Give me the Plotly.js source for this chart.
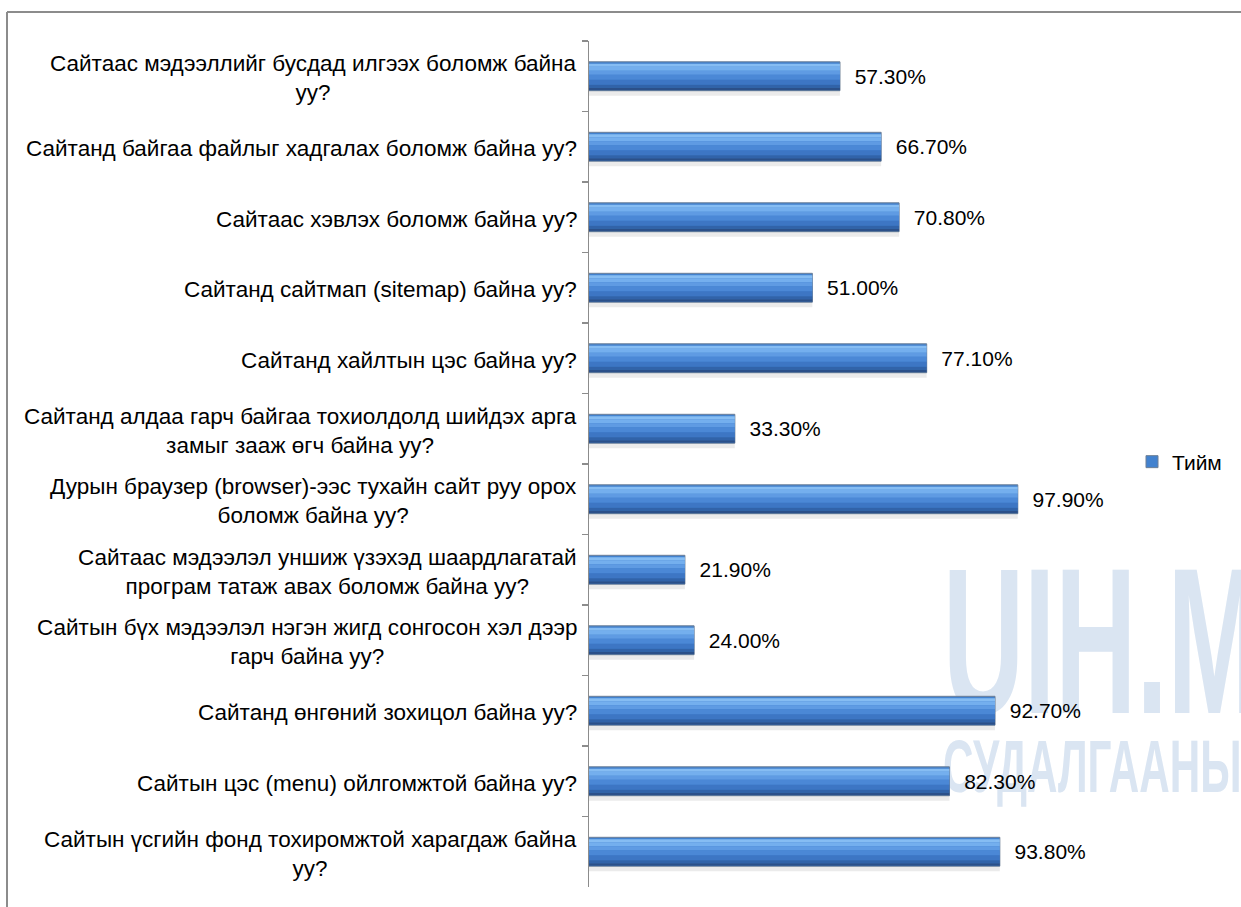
<!DOCTYPE html>
<html>
<head>
<meta charset="utf-8">
<script src="https://cdn.plot.ly/plotly-3.0.1.min.js"></script>
<style>
html,body{margin:0;padding:0;background:#fff;}
#chart{width:1241px;height:907px;}
</style>
</head>
<body>
<div id="chart"></div>
<script>
// ---- data ----
const categories = [
  "Сайтаас мэдээллийг бусдад илгээх боломж байна<br>уу?",
  "Сайтанд байгаа файлыг хадгалах боломж байна уу?",
  "Сайтаас хэвлэх боломж байна уу?",
  "Сайтанд сайтмап (sitemap) байна уу?",
  "Сайтанд хайлтын цэс байна уу?",
  "Сайтанд алдаа гарч байгаа тохиолдолд шийдэх арга<br>замыг зааж өгч байна уу?",
  "Дурын браузер (browser)-ээс тухайн сайт руу орох<br>боломж байна уу?",
  "Сайтаас мэдээлэл уншиж үзэхэд шаардлагатай<br>програм татаж авах боломж байна уу?",
  "Сайтын бүх мэдээлэл нэгэн жигд сонгосон хэл дээр<br>гарч байна уу?",
  "Сайтанд өнгөний зохицол байна уу?",
  "Сайтын цэс (menu) ойлгомжтой байна уу?",
  "Сайтын үсгийн фонд тохиромжтой харагдаж байна<br>уу?"
];
const values = [57.3, 66.7, 70.8, 51.0, 77.1, 33.3, 97.9, 21.9, 24.0, 92.7, 82.3, 93.8];
const seriesName = "Тийм";
const watermarkTop = "UIH.MN";
const watermarkBottom = "СУДАЛГААНЫ";

// ---- layout helpers ----
const W = 1241, H = 907;
const px = v => v / W;
const py = v => 1 - v / H;
const FONT = "Liberation Sans, Arial, sans-serif";
const BAR = 0.41;            // bar thickness in category units
const U = BAR / 29;          // one pixel of bar thickness

function band(color, topPx, hPx) {
  return {
    type: "bar", orientation: "h",
    x: values, y: categories,
    offset: -BAR / 2 + topPx * U, width: hPx * U,
    marker: {color: color, line: {width: 0}},
    hoverinfo: "skip", showlegend: false
  };
}

// shading bands (top px, height px) imitating the glossy gradient
const bandStyles = [
  ["#86bdf3", 2, 3],
  ["#74afee", 5, 4],
  ["#5f9be3", 9, 4],
  ["#4b88d6", 13, 5],
  ["#3d76c4", 18, 5],
  ["#3163a9", 23, 3],
  ["#2b5089", 26, 2.5]
];

const traces = [band("rgba(0,0,0,0.08)", 3, 31)];
traces.push({
  type: "bar", orientation: "h", x: values, y: categories,
  offset: -BAR / 2, width: BAR,
  name: seriesName, showlegend: true, hoverinfo: "x+y",
  marker: {color: "#4282cf", line: {color: "#6d7f96", width: 1}},
  text: values.map(v => "\u00a0\u00a0" + v.toFixed(2) + "%"),
  textposition: "outside", cliponaxis: false, constraintext: "none",
  textfont: {family: FONT, size: 21, color: "#000"}
});
bandStyles.forEach(b => traces.push(band(b[0], b[1], b[2])));

const annotations = categories.map(c => ({
  text: c, xref: "paper", yref: "y", x: px(579), y: c, yshift: -2,
  xanchor: "right", yanchor: "middle", align: "center", showarrow: false,
  font: {family: FONT, size: 22.5, color: "#000"}
}));

const shapes = [
  {type: "line", xref: "paper", yref: "paper", x0: px(7), x1: 1, y0: py(12), y1: py(12),
   line: {color: "#8c8c8c", width: 2}},
  {type: "line", xref: "paper", yref: "paper", x0: px(7), x1: px(7), y0: py(12), y1: 0,
   line: {color: "#8c8c8c", width: 2}},
  {type: "rect", xref: "paper", yref: "paper", layer: "below",
   x0: px(937), x1: 1.2, y0: py(696), y1: py(546),
   line: {width: 0}, fillcolor: "rgba(0,0,0,0)",
   label: {text: "<b>" + watermarkTop + "</b>", textposition: "middle left",
           font: {family: FONT, size: 208, color: "#dae5f2"}}},
  {type: "rect", xref: "paper", yref: "paper", layer: "below",
   x0: px(937), x1: 1.2, y0: py(786), y1: py(733),
   line: {width: 0}, fillcolor: "rgba(0,0,0,0)",
   label: {text: "<b>" + watermarkBottom + "</b>", textposition: "middle left",
           font: {family: FONT, size: 74, color: "#dae5f2"}}}
];

const layout = {
  width: W, height: H,
  margin: {l: 0, r: 0, t: 0, b: 0},
  paper_bgcolor: "#fff", plot_bgcolor: "rgba(0,0,0,0)",
  barmode: "overlay",
  font: {family: FONT, color: "#000"},
  xaxis: {domain: [px(589), px(589 + 4.38 * 120)], range: [0, 120], visible: false, fixedrange: true},
  yaxis: {domain: [py(887), py(41)], type: "category",
          categoryorder: "array", categoryarray: categories,
          range: [categories.length - 0.5, -0.5],
          showline: true, linecolor: "#8c8c8c", linewidth: 1.5,
          ticks: "outside", tickson: "boundaries", ticklen: 6, tickcolor: "#8c8c8c", tickwidth: 1.5,
          showticklabels: false, showgrid: false, zeroline: false, fixedrange: true},
  legend: {x: px(1132), y: py(462), xanchor: "left", yanchor: "middle",
           bgcolor: "rgba(0,0,0,0)", font: {family: FONT, size: 21, color: "#000"}},
  annotations: annotations,
  shapes: shapes
};

Plotly.newPlot("chart", traces, layout, {displayModeBar: false, staticPlot: true}).then(gd => {
  const scales = {};
  scales[watermarkTop] = 0.54;
  scales[watermarkBottom] = 0.57;
  gd.querySelectorAll("text").forEach(t => {
    const s = scales[t.textContent];
    if (!s) return;
    const bb = t.getBBox();
    const x0 = bb.x;
    const prev = t.getAttribute("transform") || "";
    t.setAttribute("transform", prev + " translate(" + x0 + ",0) scale(" + s + ",1) translate(" + (-x0) + ",0)");
  });
});
</script>
</body>
</html>
